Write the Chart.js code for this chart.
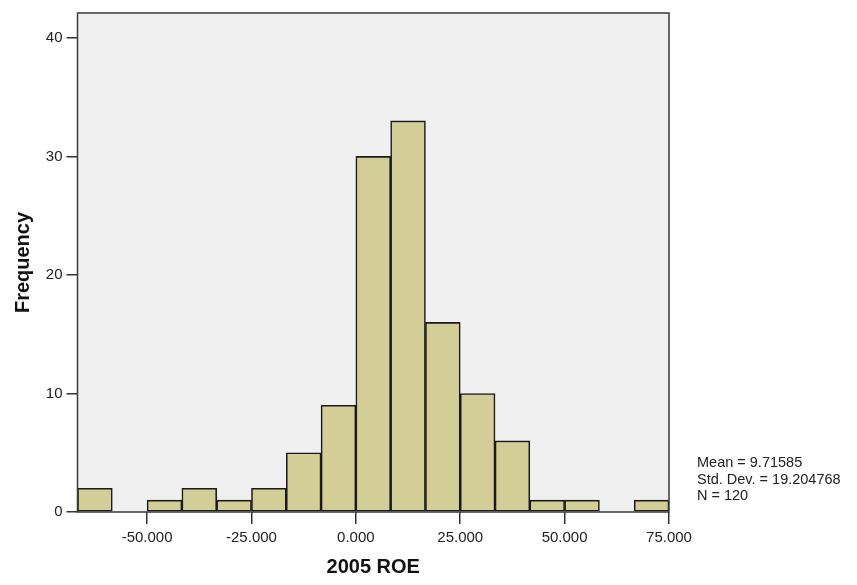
<!DOCTYPE html>
<html>
<head>
<meta charset="utf-8">
<script src="https://cdn.jsdelivr.net/npm/chart.js@4/dist/chart.umd.min.js"></script>
<style>
  html, body { margin: 0; padding: 0; background: #ffffff; }
  #wrap { position: relative; width: 857px; height: 585px; }
</style>
</head>
<body>
<div id="wrap"><canvas id="c" width="857" height="585"></canvas></div>
<script>
// ---- data ----
const binCenters = [-62.5, -54.167, -45.833, -37.5, -29.167, -20.833, -12.5, -4.167,
                    4.167, 12.5, 20.833, 29.167, 37.5, 45.833, 54.167, 62.5, 70.833];
const frequencies = [2, 0, 1, 2, 1, 2, 5, 9, 30, 33, 16, 10, 6, 1, 1, 0, 1];
const xTickValues = [-50, -25, 0, 25, 50, 75];
const yTickValues = [0, 10, 20, 30, 40];
const xRange = [-66.667, 75];
const yRange = [0, 42.1];
const xTitle = '2005 ROE';
const yTitle = 'Frequency';
const statLines = ['Mean = 9.71585', 'Std. Dev. = 19.204768', 'N = 120'];

const FONT = '"Liberation Sans", Arial, sans-serif';

const frame = {
  id: 'frame',
  beforeDatasetsDraw(chart) {
    const { ctx, chartArea: a } = chart;
    ctx.save();
    ctx.fillStyle = '#f0f0f0';
    ctx.fillRect(a.left, a.top, a.right - a.left, a.bottom - a.top);
    ctx.restore();
  },
  afterDatasetsDraw(chart) {
    const { ctx, chartArea: a } = chart;
    ctx.save();
    ctx.strokeStyle = '#3a3a3a';
    ctx.lineWidth = 1.5;
    ctx.strokeRect(a.left, a.top, a.right - a.left, a.bottom - a.top);
    ctx.restore();
  },
  afterDraw(chart) {
    const { ctx, chartArea: a } = chart;
    ctx.save();
    ctx.fillStyle = '#222';
    ctx.font = '14.5px ' + FONT;
    ctx.textBaseline = 'middle';
    ctx.textAlign = 'left';
    statLines.forEach((t, i) => ctx.fillText(t, a.right + 28, 463 + i * 16.5));
    ctx.restore();
  }
};

new Chart(document.getElementById('c'), {
  type: 'bar',
  data: {
    datasets: [{
      data: binCenters.map((x, i) => ({ x: x, y: frequencies[i] })),
      backgroundColor: '#d3ce98',
      borderColor: '#1a1a1a',
      borderWidth: 1.6,
      barPercentage: 1,
      categoryPercentage: 1,
      borderSkipped: false
    }]
  },
  options: {
    responsive: false,
    animation: false,
    devicePixelRatio: 1,
    layout: { padding: { left: 0, top: 10, right: 188, bottom: 0 } },
    plugins: { legend: { display: false }, tooltip: { enabled: false } },
    scales: {
      x: {
        type: 'linear',
        offset: false,
        min: xRange[0],
        max: xRange[1],
        afterBuildTicks(scale) { scale.ticks = xTickValues.map(v => ({ value: v })); },
        afterFit(scale) { scale.height = 73; },
        grid: { offset: false, drawOnChartArea: false, drawTicks: true, tickLength: 12, color: '#333', lineWidth: 1.5 },
        border: { display: false },
        ticks: {
          color: '#222', font: { family: FONT, size: 15 }, padding: 5, maxRotation: 0,
          callback: v => Number(v).toFixed(3)
        },
        title: { display: true, text: xTitle, color: '#111',
                 font: { family: FONT, size: 20, weight: 'bold' }, padding: { top: 0, bottom: 6 } }
      },
      y: {
        min: yRange[0],
        max: yRange[1],
        afterBuildTicks(scale) { scale.ticks = yTickValues.map(v => ({ value: v })); },
        afterFit(scale) { scale.width = 77.5; },
        grid: { drawOnChartArea: false, drawTicks: true, tickLength: 11, color: '#333', lineWidth: 1.5 },
        border: { display: false },
        ticks: { color: '#222', font: { family: FONT, size: 15 }, padding: 4 },
        title: { display: true, text: yTitle, color: '#111',
                 font: { family: FONT, size: 20, weight: 'bold' }, padding: { top: 11, bottom: 0 } }
      }
    }
  },
  plugins: [frame]
});
</script>
</body>
</html>
